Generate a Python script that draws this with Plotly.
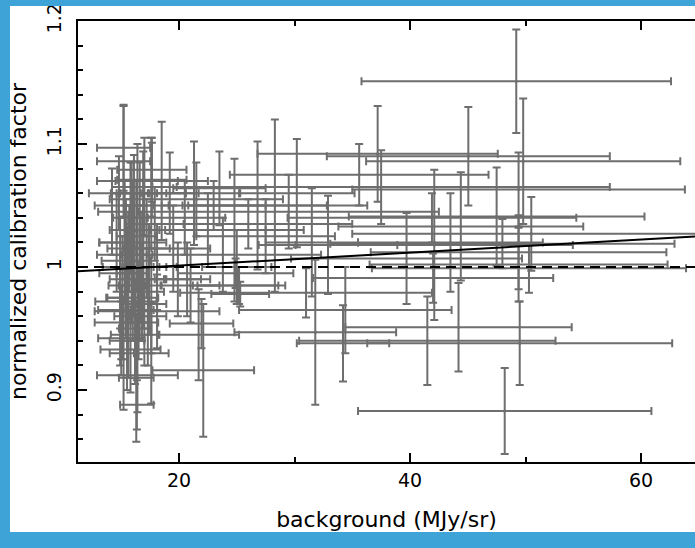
import plotly.graph_objects as go

# ---- data ----
x_bg = [49.2, 37.2, 45.05, 49.8, 49.4, 37.5, 47.5, 41.9, 42.1, 44.4, 50.5, 49.4, 49.4, 39.7,
        43.5, 32.9, 30.2, 31.5, 42.0, 34.4, 34.2, 31.8, 44.2, 41.5, 49.5, 48.2, 22.1, 21.7,
        25.0, 24.8, 25.2, 26.8, 28.3, 21.3, 18.5, 17.6, 15.2, 15.2, 17.65, 17.65, 16.1, 16.9,
        19.2, 23.5, 35.6, 16.3, 17.6, 15.2, 15.5, 18.1, 21.95, 15.0, 15.8, 16.4, 16.35, 15.4,
        19.9, 20.7, 31.0, 20.5, 22.5, 19.5, 23.0, 27.5, 21.0,
        14.2, 14.6, 14.9, 15.1, 15.3, 15.4, 15.5, 15.6, 15.7, 15.8, 15.9, 16.0, 16.1, 16.2,
        16.3, 16.4, 16.5, 16.6, 16.7, 16.8, 16.9, 17.0, 17.2, 17.4, 17.6, 17.9, 18.1, 14.8,
        15.0, 17.0, 16.4,
        48.0, 50.3, 25.1, 24.9, 25.3, 29.5, 26.0, 21.5, 23.8, 15.6, 16.0, 16.6, 15.3, 16.9,
        17.3, 15.9, 16.2, 14.9]
y_cal = [1.151, 1.092, 1.090, 1.086, 1.063, 1.065, 1.041, 1.040, 1.018, 1.033, 1.027, 1.012,
         1.002, 1.007, 1.020, 1.018, 1.060, 1.020, 0.991, 0.965, 0.938, 0.947, 0.951, 0.940,
         0.938, 0.883, 0.916, 0.945, 1.000, 1.030, 0.985, 1.050, 1.050, 1.060, 1.070, 1.060,
         1.097, 1.086, 1.079, 1.071, 1.060, 1.060, 1.060, 1.064, 1.075, 0.910, 0.930, 0.930,
         0.940, 0.964, 0.954, 0.942, 0.933, 0.912, 0.888, 0.972, 0.990, 0.990, 0.979, 1.040,
         1.030, 1.015, 1.050, 1.025, 0.985,
         1.045, 1.020, 0.995, 0.975, 1.030, 1.005, 0.985, 0.960, 1.015, 1.040, 0.995, 0.975,
         1.010, 0.950, 1.025, 0.990, 0.965, 1.050, 1.000, 0.980, 1.030, 0.955, 1.015, 0.990,
         0.970, 1.035, 1.000, 1.060, 0.955, 1.065, 1.070,
         1.019, 0.999, 0.985, 0.995, 0.978, 1.045, 1.035, 1.055, 1.010, 1.000, 1.020, 0.985,
         1.010, 1.000, 0.960, 1.050, 0.945, 0.965]
x_err = [13.4, 10.4, 12.25, 13.6, 14.4, 19.8, 12.8, 12.5, 12.0, 10.6, 15.5, 12.8, 12.9, 10.0,
         8.0, 6.0, 5.0, 4.0, 10.4, 9.2, 4.0, 7.0, 9.8, 11.1, 13.2, 12.7, 4.4, 3.5,
         3.0, 6.0, 4.0, 6.0, 8.0, 4.0, 4.0, 3.0, 2.3, 2.3, 3.0, 3.0, 2.0, 2.0,
         2.5, 4.0, 11.2, 1.5, 1.5, 1.2, 1.5, 5.4, 2.75, 2.0, 2.6, 3.5, 1.45, 2.65,
         2.0, 2.0, 10.9, 3.5, 5.0, 3.2, 4.5, 6.0, 2.5,
         1.2, 1.5, 1.8, 1.4, 1.3, 2.1, 1.6, 1.2, 1.9, 1.5, 1.3, 2.2, 1.1, 1.4,
         1.7, 2.4, 1.3, 1.2, 1.6, 1.9, 1.4, 1.2, 2.0, 1.5, 1.3, 2.5, 1.7, 2.6,
         2.3, 2.8, 3.5,
         14.9, 13.6, 3.5, 5.0, 2.5, 13.0, 9.0, 7.5, 8.5, 2.2, 2.9, 1.8, 2.4, 2.0,
         1.6, 3.2, 2.1, 1.9]
y_err = [0.042, 0.039, 0.040, 0.051, 0.030, 0.030, 0.040, 0.020, 0.061, 0.044, 0.030, 0.030,
         0.030, 0.037, 0.040, 0.040, 0.044, 0.044, 0.020, 0.035, 0.031, 0.059, 0.036, 0.036,
         0.034, 0.035, 0.054, 0.037, 0.030, 0.058, 0.015, 0.052, 0.070, 0.042, 0.048, 0.045,
         0.035, 0.045, 0.026, 0.030, 0.031, 0.034, 0.033, 0.030, 0.025, 0.052, 0.041, 0.046,
         0.040, 0.030, 0.020, 0.030, 0.035, 0.030, 0.020, 0.030, 0.030, 0.030, 0.020, 0.030,
         0.030, 0.035, 0.020, 0.030, 0.030,
         0.035, 0.040, 0.045, 0.050, 0.040, 0.050, 0.045, 0.050, 0.035, 0.045, 0.040, 0.035,
         0.050, 0.040, 0.045, 0.050, 0.040, 0.035, 0.045, 0.040, 0.040, 0.035, 0.040, 0.045,
         0.040, 0.030, 0.035, 0.030, 0.030, 0.040, 0.030,
         0.020, 0.020, 0.015, 0.012, 0.010, 0.030, 0.020, 0.030, 0.030, 0.045, 0.050, 0.045,
         0.040, 0.050, 0.040, 0.035, 0.040, 0.045]

fit_intercept = 0.9905
fit_slope = 0.00053
reference_level = 1.0

x_range = [11.255, 64.675]
y_range = [0.8415, 1.2]

GRAY = "#6e6e6e"
BLUE = "#3ea3d6"
FONT = "DejaVu Sans"

fig = go.Figure()
fig.add_trace(go.Scatter(
    x=x_bg, y=y_cal, mode="markers",
    marker=dict(size=3, color=GRAY),
    error_x=dict(type="data", array=x_err, symmetric=True, color=GRAY, thickness=2, width=4),
    error_y=dict(type="data", array=y_err, symmetric=True, color=GRAY, thickness=2, width=4),
    showlegend=False, hoverinfo="skip"))

fit_x = [x_range[0], x_range[1]]
fit_y = [fit_intercept + fit_slope * v for v in fit_x]
fig.add_trace(go.Scatter(x=fit_x, y=fit_y, mode="lines",
                         line=dict(color="black", width=2), showlegend=False, hoverinfo="skip"))
fig.add_trace(go.Scatter(x=fit_x, y=[reference_level, reference_level], mode="lines",
                         line=dict(color="black", width=2, dash="10px,6px"), showlegend=False,
                         hoverinfo="skip"))

W, H = 695, 548
L, R, T, B = 78, 0, 21, 86
pw, ph = W - L - R, H - T - B

def px2paper(px):
    return (px - L) / pw

def py2paper(py):
    return (H - B - py) / ph

shapes = [
    dict(type="rect", xref="paper", yref="paper", layer="above", line=dict(width=0),
         fillcolor=BLUE, x0=px2paper(0), x1=px2paper(W), y0=py2paper(6), y1=py2paper(0)),
    dict(type="rect", xref="paper", yref="paper", layer="above", line=dict(width=0),
         fillcolor=BLUE, x0=px2paper(0), x1=px2paper(10), y0=py2paper(H), y1=py2paper(0)),
    dict(type="rect", xref="paper", yref="paper", layer="above", line=dict(width=0),
         fillcolor=BLUE, x0=px2paper(0), x1=px2paper(W), y0=py2paper(H), y1=py2paper(532)),
]

fig.update_layout(
    width=W, height=H,
    margin=dict(l=L, r=R, t=T, b=B, autoexpand=False),
    paper_bgcolor="white", plot_bgcolor="white",
    font=dict(family=FONT, color="black", size=19),
    shapes=shapes,
    xaxis=dict(range=x_range, showgrid=False, zeroline=False, automargin=False,
               showline=True, linecolor="black", linewidth=2, mirror="ticks",
               ticks="inside", ticklen=9, tickwidth=2, tickcolor="black",
               dtick=20, tick0=0, tickfont=dict(size=19),
               minor=dict(dtick=10, tick0=0, ticks="inside", ticklen=5, tickwidth=2, tickcolor="black"),
               title=dict(text="background (MJy/sr)", font=dict(size=22), standoff=22)),
    yaxis=dict(range=y_range, showgrid=False, zeroline=False, automargin=False,
               showline=True, linecolor="black", linewidth=2, mirror=False,
               ticks="inside", ticklen=9, tickwidth=2, tickcolor="black",
               dtick=0.1, tick0=0, tickangle=-90, tickfont=dict(size=19),
               ticklabelstandoff=7,
               minor=dict(dtick=0.02, tick0=0, ticks="inside", ticklen=5, tickwidth=2, tickcolor="black"),
               title=dict(text="normalized calibration factor", font=dict(size=22), standoff=11)),
)

page_fix = ("document.documentElement.style.background='%s';"
            "document.body.style.margin='0';document.body.style.overflow='hidden';"
            "document.body.style.background='%s';" % (BLUE, BLUE))
fig.write_html("out.html", post_script=page_fix, config={"displayModeBar": False})
